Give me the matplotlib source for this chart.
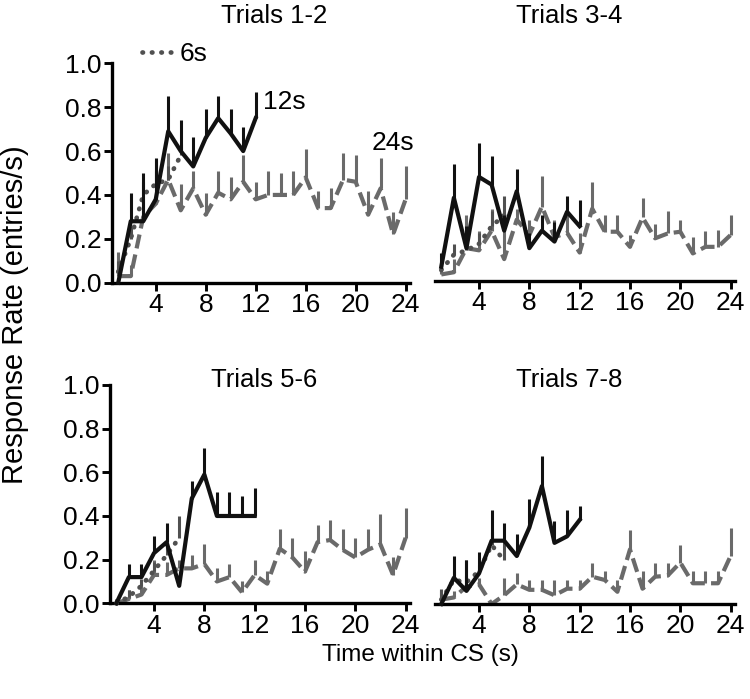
import matplotlib
matplotlib.use("Agg")
import matplotlib.pyplot as plt
import numpy as np

plt.rcParams['font.family'] = ['Liberation Sans', 'DejaVu Sans']

# ---------------- data ----------------
t6 = [1, 2, 3, 4, 5, 6]
t12 = list(range(1, 13))
t24 = list(range(1, 25))

titles = ["Trials 1-2", "Trials 3-4", "Trials 5-6", "Trials 7-8"]
xticks = [4, 8, 12, 16, 20, 24]
yticks = [0.0, 0.2, 0.4, 0.6, 0.8, 1.0]
ytick_labels = ["0.0", "0.2", "0.4", "0.6", "0.8", "1.0"]

# Trials 1-2
m6_1 = [0.05, 0.20, 0.40, 0.45, 0.47, 0.58]
u6_1 = [0.10, 0.26, 0.46, 0.51, 0.53, 0.63]
m12_1 = [0.0, 0.28, 0.28, 0.38, 0.69, 0.60, 0.53, 0.66, 0.75, 0.68, 0.60, 0.75]
u12_1 = [0.0, 0.41, 0.50, 0.57, 0.85, 0.74, 0.665, 0.79, 0.85, 0.79, 0.71, 0.87]
m24_1 = [0.03, 0.03, 0.30, 0.36, 0.47, 0.33, 0.43, 0.31, 0.41, 0.38, 0.46, 0.38,
         0.40, 0.40, 0.40, 0.48, 0.34, 0.34, 0.47, 0.46, 0.31, 0.43, 0.22, 0.38]
u24_1 = [0.14, 0.08, 0.38, 0.56, 0.59, 0.45, 0.51, 0.41, 0.51, 0.48, 0.58, 0.46,
         0.51, 0.50, 0.51, 0.61, 0.42, 0.43, 0.59, 0.58, 0.42, 0.57, 0.32, 0.53]

# Trials 3-4
m6_2 = [0.05, 0.12, 0.14, 0.17, 0.25, 0.30]
u6_2 = [0.09, 0.17, 0.22, 0.22, 0.32, 0.39]
m12_2 = [0.065, 0.38, 0.15, 0.475, 0.44, 0.23, 0.41, 0.15, 0.23, 0.18, 0.316, 0.25]
u12_2 = [0.126, 0.536, 0.25, 0.63, 0.57, 0.30, 0.51, 0.22, 0.30, 0.27, 0.39, 0.37]
m24_2 = [0.03, 0.04, 0.15, 0.14, 0.23, 0.10, 0.28, 0.21, 0.34, 0.20, 0.22, 0.13,
         0.33, 0.225, 0.225, 0.156, 0.29, 0.195, 0.217, 0.225, 0.126, 0.156, 0.156, 0.21]
u24_2 = [0.08, 0.10, 0.30, 0.23, 0.33, 0.29, 0.33, 0.28, 0.48, 0.28, 0.30, 0.22,
         0.45, 0.30, 0.30, 0.21, 0.377, 0.26, 0.32, 0.28, 0.20, 0.23, 0.235, 0.30]

# Trials 5-6
m6_3 = [0.0, 0.03, 0.08, 0.15, 0.22, 0.30]
u6_3 = [0.02, 0.06, 0.11, 0.19, 0.26, 0.40]
m12_3 = [0.0, 0.12, 0.12, 0.23, 0.28, 0.08, 0.48, 0.59, 0.40, 0.40, 0.40, 0.40]
u12_3 = [0.0, 0.18, 0.18, 0.31, 0.37, 0.08, 0.56, 0.71, 0.51, 0.51, 0.49, 0.53]
m24_3 = [0.0, 0.02, 0.04, 0.13, 0.13, 0.16, 0.16, 0.18, 0.10, 0.12, 0.05, 0.13,
         0.09, 0.25, 0.21, 0.145, 0.28, 0.29, 0.245, 0.21, 0.245, 0.27, 0.13, 0.30]
u24_3 = [0.0, 0.06, 0.09, 0.20, 0.19, 0.20, 0.22, 0.27, 0.16, 0.18, 0.10, 0.20,
         0.15, 0.34, 0.30, 0.24, 0.36, 0.38, 0.34, 0.30, 0.34, 0.41, 0.21, 0.435]

# Trials 7-8
m6_4 = [0.02, 0.11, 0.10, 0.15, 0.27, 0.20]
u6_4 = [0.07, 0.15, 0.20, 0.18, 0.33, 0.30]
m12_4 = [0.0, 0.12, 0.06, 0.14, 0.29, 0.29, 0.22, 0.35, 0.54, 0.28, 0.31, 0.385]
u12_4 = [0.0, 0.22, 0.20, 0.24, 0.43, 0.37, 0.32, 0.48, 0.68, 0.38, 0.43, 0.45]
m24_4 = [0.02, 0.03, 0.08, 0.09, 0.0, 0.04, 0.09, 0.065, 0.065, 0.04, 0.07, 0.07,
         0.125, 0.11, 0.056, 0.25, 0.07, 0.125, 0.13, 0.19, 0.095, 0.095, 0.095, 0.22]
u24_4 = [0.065, 0.06, 0.13, 0.12, 0.0, 0.12, 0.14, 0.11, 0.11, 0.11, 0.11, 0.11,
         0.19, 0.15, 0.11, 0.34, 0.15, 0.19, 0.19, 0.27, 0.15, 0.15, 0.15, 0.35]

panels = [
    (m6_1, u6_1, m12_1, u12_1, m24_1, u24_1),
    (m6_2, u6_2, m12_2, u12_2, m24_2, u24_2),
    (m6_3, u6_3, m12_3, u12_3, m24_3, u24_3),
    (m6_4, u6_4, m12_4, u12_4, m24_4, u24_4),
]

# ---------------- style ----------------
C12 = '#111111'
C24 = '#6a6a6a'
C6 = '#505050'
FS = 19
FS_T = 18.5
W, H = 750, 699
LW = 3.0
ELW = 2.2
DOT = (0, (0.1, 1.9))
DASH = (0, (3.4, 1.5))

fig = plt.figure(figsize=(W / 100, H / 100), dpi=100)

# (left px, right px, top px (y=1), bottom px (y=0))
boxes = [
    (112, 410, 63.3, 282.7),
    (435, 735, 62.0, 281.0),
    (110, 410, 385.0, 603.3),
    (435, 735, 385.7, 604.0),
]


def mk_ax(b):
    l, r, t, bt = b
    return fig.add_axes([l / W, 1 - bt / H, (r - l) / W, (bt - t) / H])


for i, (b, pdata) in enumerate(zip(boxes, panels)):
    ax = mk_ax(b)
    m6, u6, m12, u12, m24, u24 = pdata
    e6 = np.clip(np.array(u6) - np.array(m6), 0, None)
    e12 = np.clip(np.array(u12) - np.array(m12), 0, None)
    e24 = np.clip(np.array(u24) - np.array(m24), 0, None)
    # 24s dashed
    ax.errorbar(t24, m24, yerr=[np.zeros_like(e24), e24], fmt='none',
                ecolor=C24, elinewidth=ELW, capsize=0, zorder=2, clip_on=False)
    ax.plot(t24, m24, color=C24, lw=LW, linestyle=DASH,
            dash_capstyle='butt', zorder=2, clip_on=False)
    # 6s dotted
    ax.errorbar(t6, m6, yerr=[np.zeros_like(e6), e6], fmt='none',
                ecolor=C6, elinewidth=ELW, capsize=0, zorder=3, clip_on=False)
    ax.plot(t6, m6, color=C6, lw=LW + 0.4, linestyle=DOT,
            dash_capstyle='round', zorder=3, clip_on=False)
    # 12s solid
    ax.errorbar(t12, m12, yerr=[np.zeros_like(e12), e12], fmt='none',
                ecolor=C12, elinewidth=ELW, capsize=0, zorder=4, clip_on=False)
    ax.plot(t12, m12, color=C12, lw=LW, zorder=4, clip_on=False)

    ax.set_xlim(0.5, 24.35)
    ax.set_ylim(0, 1.0)
    ax.spines['top'].set_visible(False)
    ax.spines['right'].set_visible(False)
    ax.spines['bottom'].set_linewidth(2.4)
    ax.spines['left'].set_linewidth(2.4)
    ax.set_xticks(xticks)
    ax.set_xticklabels([str(v) for v in xticks], fontsize=FS)
    ax.tick_params(axis='x', length=6, width=2.1, direction='out', pad=1.5)
    if i in (0, 2):
        ax.set_yticks(yticks)
        ax.set_yticklabels(ytick_labels, fontsize=FS)
        ax.tick_params(axis='y', length=6, width=2.1, direction='out', pad=1.5)
    else:
        ax.spines['left'].set_visible(False)
        ax.set_yticks([])
    ax.set_facecolor('none')

# titles
title_pos = [(274, 16), (569, 16), (264, 380), (569, 380)]
for (x, y), tt in zip(title_pos, titles):
    fig.text(x / W, 1 - y / H, tt, ha='center', va='center', fontsize=FS_T)

# series labels in first panel
fig.text(180 / W, 1 - 54 / H, "6s", ha='left', va='center', fontsize=FS)
fig.text(263 / W, 1 - 102 / H, "12s", ha='left', va='center', fontsize=FS)
fig.text(372 / W, 1 - 143 / H, "24s", ha='left', va='center', fontsize=FS)
fig.add_artist(plt.Line2D([142 / W, 172 / W], [1 - 52 / H, 1 - 52 / H],
                          color=C6, lw=LW + 0.4, linestyle=DOT,
                          dash_capstyle='round', transform=fig.transFigure))

# axis labels
fig.text(15 / W, 1 - 315 / H, "Response Rate (entries/s)", rotation=90,
         ha='center', va='center', fontsize=21)
fig.text(420 / W, 1 - 655 / H, "Time within CS (s)", ha='center', va='center',
         fontsize=17.5)

fig.savefig("out.png", dpi=100)
